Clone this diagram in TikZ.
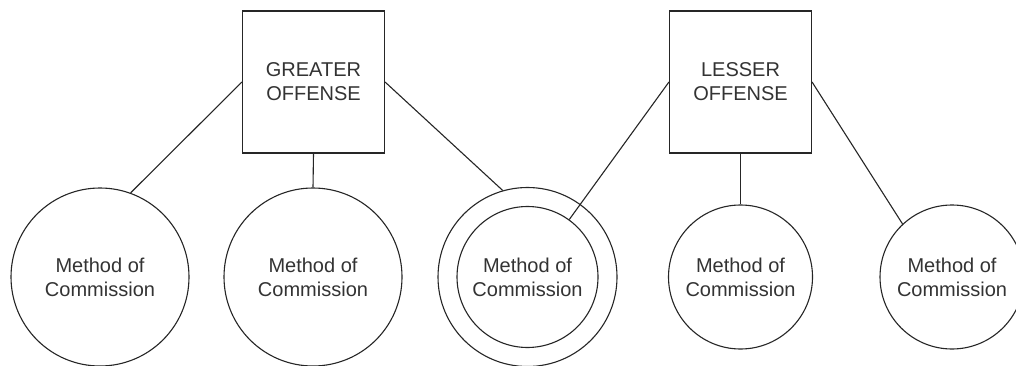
\documentclass[tikz,border=0pt]{standalone}
\usepackage{fontspec}
\setmainfont{Liberation Sans}
\begin{document}
\begin{tikzpicture}[x=1pt,y=-1pt,
  ink/.style={draw=black!85, line width=1.1pt},
  lbl/.style={text=black!80, align=center, font=\fontsize{20}{24}\selectfont},
  offbox/.style={ink, lbl, rectangle, minimum width=142pt, minimum height=142pt, inner sep=0pt},
  moc/.style={ink, lbl, circle, inner sep=0pt},
  link/.style={ink}
]
\clip (0,0) rectangle (1016,366);
\fill[white] (0,0) rectangle (1016,366);

\node[offbox] (greater) at (313.5,82) {GREATER\\OFFENSE};
\node[offbox] (lesser)  at (740.5,82) {LESSER\\OFFENSE};

\node[moc, minimum size=178pt] (c1) at (100,277) {Method of\\Commission};
\node[moc, minimum size=178pt] (c2) at (313,277) {Method of\\Commission};
\node[moc, minimum size=179pt] (c3o) at (527.5,277) {};
\node[moc, minimum size=141pt] (c3i) at (527.5,277) {Method of\\Commission};
\node[moc, minimum size=144pt] (c4) at (740.5,277) {Method of\\Commission};
\node[moc, minimum size=144pt] (c5) at (952,277) {Method of\\Commission};

\draw[link] (greater.west) -- (c1.70);
\draw[link] (greater.south) -- (c2.north);
\draw[link] (greater.east) -- (c3o.106);
\draw[link] (lesser.west) -- (c3i.54);
\draw[link] (lesser.south) -- (c4.north);
\draw[link] (lesser.east) -- (c5.133);
\end{tikzpicture}
\end{document}
